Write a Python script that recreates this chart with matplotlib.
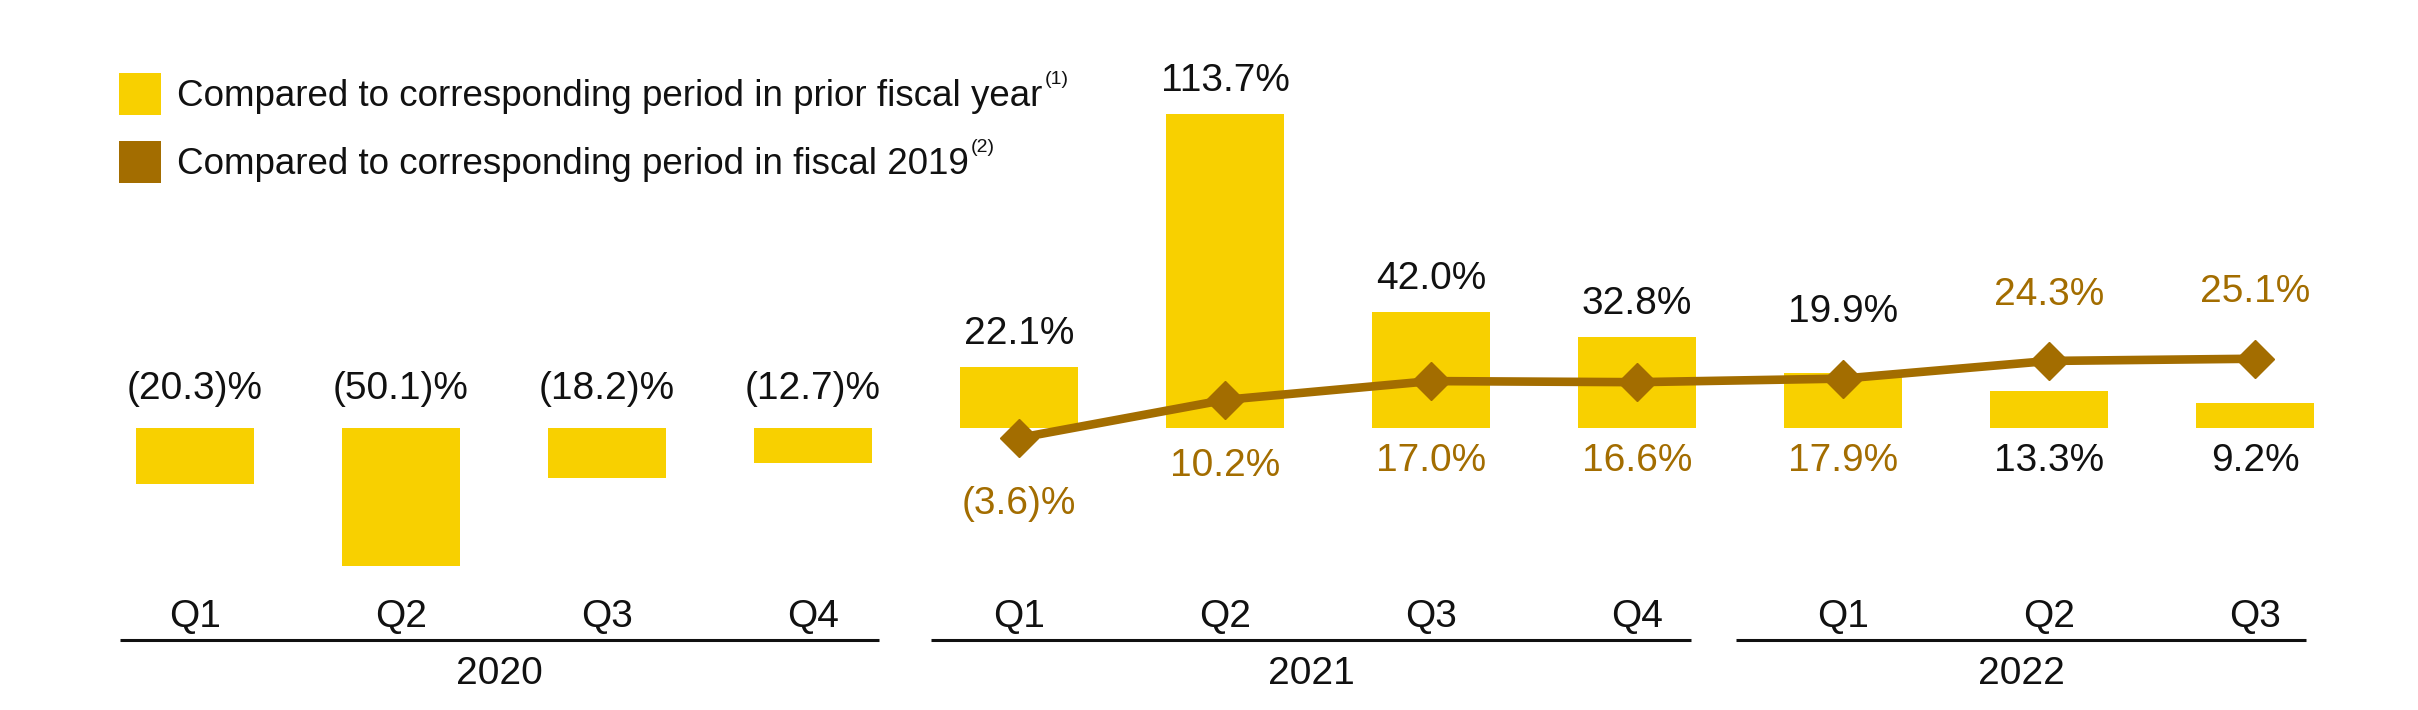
import matplotlib
matplotlib.use("Agg")
import matplotlib.pyplot as plt
from matplotlib.patches import Rectangle

# ---- data ----
years = ["2020", "2021", "2022"]
quarters = ["Q1", "Q2", "Q3", "Q4", "Q1", "Q2", "Q3", "Q4", "Q1", "Q2", "Q3"]
year_of = ["2020"] * 4 + ["2021"] * 4 + ["2022"] * 3
prior_year = [-20.3, -50.1, -18.2, -12.7, 22.1, 113.7, 42.0, 32.8, 19.9, 13.3, 9.2]
vs_2019 = [None, None, None, None, -3.6, 10.2, 17.0, 16.6, 17.9, 24.3, 25.1]
legend_labels = ["Compared to corresponding period in prior fiscal year",
                 "Compared to corresponding period in fiscal 2019"]
legend_notes = ["(1)", "(2)"]

YELLOW = "#F8D000"
BROWN = "#A36D00"
BLACK = "#111111"
FONT = "Liberation Sans"

plt.rcParams["font.family"] = [FONT, "DejaVu Sans"]

W, H, DPI = 2418, 710, 100
fig = plt.figure(figsize=(W / DPI, H / DPI), dpi=DPI)
ax = fig.add_axes([0, 0, 1, 1])
ax.set_axis_off()

n = len(quarters)
x = list(range(n))
# horizontal mapping: index 0 at 195px, step 206px
step = 206.0
x0 = 195.0
ax.set_xlim(-x0 / step, (W - x0) / step)
# vertical mapping: zero at 428px from top, 2.76 px per %
ppp = 2.76
zero_px = 428.0
ax.set_ylim(-(H - zero_px) / ppp, zero_px / ppp)

ax.bar(x, prior_year, width=0.575, color=YELLOW, zorder=1)

lx = [i for i, v in enumerate(vs_2019) if v is not None]
ly = [v for v in vs_2019 if v is not None]
ax.plot(lx, ly, color=BROWN, lw=6.2, marker="D", markersize=19,
        markeredgecolor=BROWN, markeredgewidth=1.0, solid_capstyle="butt", zorder=3)


def fmt(v):
    return f"({abs(v):.1f})%" if v < 0 else f"{v:.1f}%"


LBL = 28
for i in x:
    b = prior_year[i]
    l = vs_2019[i]
    top_b = max(b, 0) + 12
    bot_b = min(b, 0) - 12
    if l is None:
        ax.text(i, max(top_b, 14), fmt(b), ha="center", va="center", fontsize=LBL, color=BLACK)
        continue
    if b >= l:
        ty = max(top_b, l + 24)
        by = min(min(l, 0) - 12, l - 24)
        ax.text(i, ty, fmt(b), ha="center", va="center", fontsize=LBL, color=BLACK)
        ax.text(i, by, fmt(l), ha="center", va="center", fontsize=LBL, color=BROWN)
    else:
        ty = max(top_b, l + 24)
        by = bot_b
        ax.text(i, ty, fmt(l), ha="center", va="center", fontsize=LBL, color=BROWN)
        ax.text(i, by, fmt(b), ha="center", va="center", fontsize=LBL, color=BLACK)

# quarter labels
q_y = -(617 - zero_px) / ppp
u_y = -(640 - zero_px) / ppp
y_y = -(674 - zero_px) / ppp
for i in x:
    ax.text(i, q_y, quarters[i], ha="center", va="center", fontsize=LBL, color=BLACK)

for yr in years:
    idx = [i for i in x if year_of[i] == yr]
    c = (idx[0] + idx[-1]) / 2 * 0.985
    half = 0.461 * len(idx)
    ax.plot([c - half, c + half], [u_y, u_y], color=BLACK, lw=2.2, solid_capstyle="butt")
    ax.text(c, y_y, yr, ha="center", va="center", fontsize=LBL, color=BLACK)

# legend
fig.canvas.draw()
renderer = fig.canvas.get_renderer()
leg_colors = [YELLOW, BROWN]
leg_centers = [94, 162]
for lab, note, col, cy in zip(legend_labels, legend_notes, leg_colors, leg_centers):
    sq = 42
    fig.add_artist(Rectangle((119 / W, (H - cy - sq / 2) / H), sq / W, sq / H,
                             transform=fig.transFigure, color=col, lw=0))
    t = fig.text(177 / W, (H - cy - 2) / H, lab, ha="left", va="center", fontsize=26.5, color=BLACK)
    bb = t.get_window_extent(renderer)
    fig.text((bb.x1 + 2) / W, (H - cy + 15) / H, note, ha="left", va="center",
             fontsize=14, color=BLACK)

fig.savefig("out.png", dpi=DPI, facecolor="white")
